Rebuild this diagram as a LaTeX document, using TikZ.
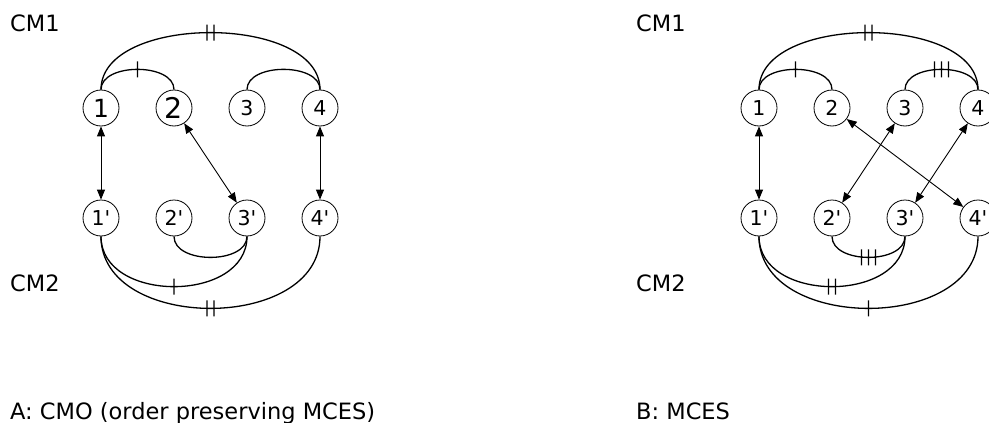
\documentclass[tikz,border=0pt]{standalone}
\usepackage{fontspec}
\setmainfont{DejaVu Sans}[Ligatures=TeXOff]
\usetikzlibrary{arrows.meta,decorations.markings}
\begin{document}
\begin{tikzpicture}[x=1pt,y=-1pt,
  num/.style={circle,draw,line width=0.8pt,minimum size=36pt,inner sep=0pt,
    font=\fontsize{20.5}{24}\selectfont},
  lbl/.style={anchor=base west,inner sep=0pt,font=\fontsize{22.5}{26}\selectfont},
  arc/.style={line width=1.3pt},
  link/.style={line width=0.9pt,
    {Triangle[length=10pt,width=8pt]}-{Triangle[length=10pt,width=8pt]}},
  tickI/.style={postaction={decorate,decoration={markings,
    mark=at position 0.5 with {\draw[line width=1.3pt] (0,-8pt)--(0,8pt);}}}},
  tickII/.style={postaction={decorate,decoration={markings,
    mark=at position 0.5 with {\draw[line width=1.3pt] (-3.5pt,-8pt)--(-3.5pt,8pt) (3.5pt,-8pt)--(3.5pt,8pt);}}}},
  tickIII/.style={postaction={decorate,decoration={markings,
    mark=at position 0.5 with {\draw[line width=1.3pt] (-7pt,-8pt)--(-7pt,8pt) (0,-8pt)--(0,8pt) (7pt,-8pt)--(7pt,8pt);}}}},
]
\useasboundingbox (0,0) rectangle (989,423);

% ---------- panel A ----------
\node[lbl] (cmAa) at (10,31) {CM1};
\node[lbl] (cmAb) at (10,291) {CM2};
\node[lbl] (capA) at (10,419) {A: CMO (order preserving MCES)};

\node[num,font=\fontsize{25}{28}\selectfont] (a1) at (101,108) {1};
\node[num,font=\fontsize{28.5}{32}\selectfont] (a2) at (174,108) {2};
\node[num] (a3) at (247,108) {3};
\node[num] (a4) at (320,108) {4};
\node[num] (b1) at (101,218) {1'};
\node[num] (b2) at (174,218) {2'};
\node[num] (b3) at (247,218) {3'};
\node[num] (b4) at (320,218) {4'};

\draw[arc,tickI]  (a1.north) .. controls +(0,-27) and +(0,-27) .. (a2.north);
\draw[arc,tickII] (a1.north) .. controls +(0,-76) and +(0,-76) .. (a4.north);
\draw[arc]        (a3.north) .. controls +(0,-27) and +(0,-27) .. (a4.north);

\draw[arc]        (b2.south) .. controls +(0,28) and +(0,28) .. (b3.south);
\draw[arc,tickI]  (b1.south) .. controls +(0,67) and +(0,67) .. (b3.south);
\draw[arc,tickII] (b1.south) .. controls +(0,96) and +(0,96) .. (b4.south);

\draw[link] (a1) -- (b1);
\draw[link] (a2) -- (b3);
\draw[link] (a4) -- (b4);

% ---------- panel B ----------
\node[lbl] (cmBa) at (636,31) {CM1};
\node[lbl] (cmBb) at (636,291) {CM2};
\node[lbl] (capB) at (636,419) {B: MCES};

\node[num] (c1) at (759,108) {1};
\node[num] (c2) at (832,108) {2};
\node[num] (c3) at (905,108) {3};
\node[num] (c4) at (978,108) {4};
\node[num] (d1) at (759,218) {1'};
\node[num] (d2) at (832,218) {2'};
\node[num] (d3) at (905,218) {3'};
\node[num] (d4) at (978,218) {4'};

\draw[arc,tickI]   (c1.north) .. controls +(0,-27) and +(0,-27) .. (c2.north);
\draw[arc,tickII]  (c1.north) .. controls +(0,-76) and +(0,-76) .. (c4.north);
\draw[arc,tickIII] (c3.north) .. controls +(0,-27) and +(0,-27) .. (c4.north);

\draw[arc,tickIII] (d2.south) .. controls +(0,28) and +(0,28) .. (d3.south);
\draw[arc,tickII]  (d1.south) .. controls +(0,67) and +(0,67) .. (d3.south);
\draw[arc,tickI]   (d1.south) .. controls +(0,96) and +(0,96) .. (d4.south);

\draw[link] (c1) -- (d1);
\draw[link] (c2) -- (d4);
\draw[link] (c3) -- (d2);
\draw[link] (c4) -- (d3);
\end{tikzpicture}
\end{document}
